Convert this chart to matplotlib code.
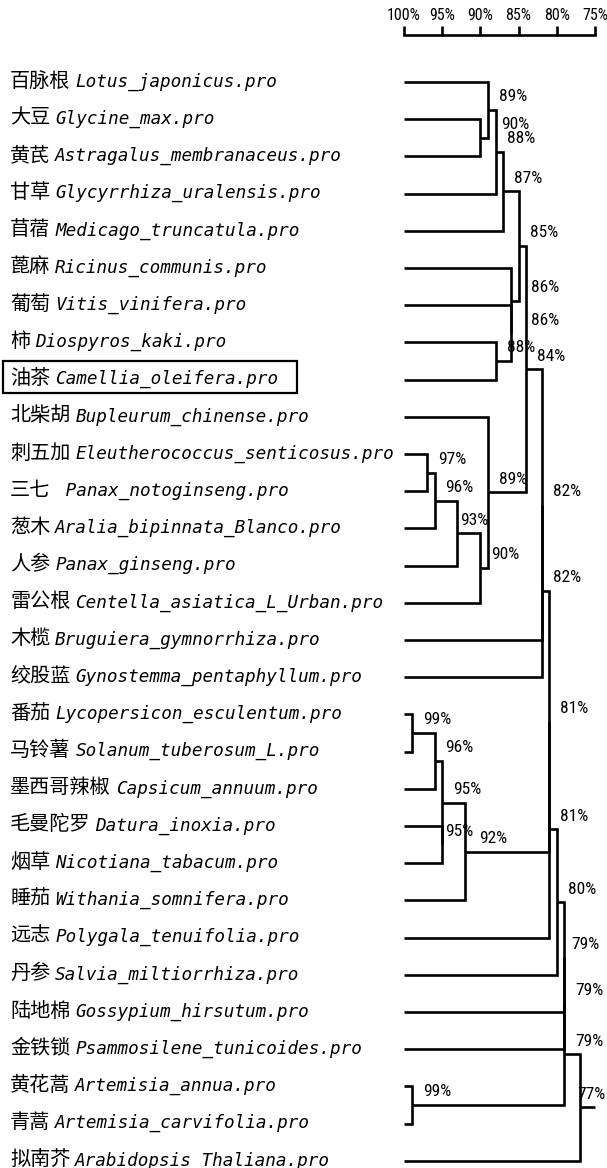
import matplotlib
matplotlib.use('Agg')
import matplotlib.pyplot as plt
import matplotlib.transforms as mtransforms
from matplotlib import font_manager
from matplotlib.patches import Rectangle

# leaf names, top to bottom
cn_names = ['百脉根', '大豆', '黄芪', '甘草', '苜蓿', '蓖麻', '葡萄', '柿', '油茶',
            '北柴胡', '刺五加', '三七', '葱木', '人参', '雷公根', '木榄', '绞股蓝',
            '番茄', '马铃薯', '墨西哥辣椒', '毛曼陀罗', '烟草', '睡茄', '远志', '丹参',
            '陆地棉', '金铁锁', '黄花蒿', '青蒿', '拟南芥']
latin_names = ['Lotus_japonicus.pro', 'Glycine_max.pro', 'Astragalus_membranaceus.pro',
               'Glycyrrhiza_uralensis.pro', 'Medicago_truncatula.pro', 'Ricinus_communis.pro',
               'Vitis_vinifera.pro', 'Diospyros_kaki.pro', 'Camellia_oleifera.pro',
               'Bupleurum_chinense.pro', 'Eleutherococcus_senticosus.pro',
               ' Panax_notoginseng.pro', 'Aralia_bipinnata_Blanco.pro', 'Panax_ginseng.pro',
               'Centella_asiatica_L_Urban.pro', 'Bruguiera_gymnorrhiza.pro',
               'Gynostemma_pentaphyllum.pro', 'Lycopersicon_esculentum.pro',
               'Solanum_tuberosum_L.pro', 'Capsicum_annuum.pro', 'Datura_inoxia.pro',
               'Nicotiana_tabacum.pro', 'Withania_somnifera.pro', 'Polygala_tenuifolia.pro',
               'Salvia_miltiorrhiza.pro', 'Gossypium_hirsutum.pro',
               'Psammosilene_tunicoides.pro', 'Artemisia_annua.pro',
               'Artemisia_carvifolia.pro', 'Arabidopsis_Thaliana.pro']
highlight = 8  # 油茶

# merges: (child a, child b, similarity %), new nodes numbered from 30
merges = [(1, 2, 90), (0, 30, 89), (31, 3, 88), (32, 4, 87),
          (7, 8, 88), (6, 34, 86), (5, 35, 86), (33, 36, 85),
          (10, 11, 97), (38, 12, 96), (39, 13, 93), (40, 14, 90), (9, 41, 89),
          (37, 42, 84), (43, 15, 82), (44, 16, 82),
          (17, 18, 99), (46, 19, 96), (20, 21, 95), (47, 48, 95), (49, 22, 92),
          (45, 50, 81), (51, 23, 81), (52, 24, 80), (53, 25, 79), (54, 26, 79),
          (27, 28, 99), (55, 56, 79), (57, 29, 77)]

ruler_ticks = [100, 95, 90, 85, 80, 75]

# label nudges (pixels) where the default spot collides with a line or the edge
label_dx = {30: 10, 35: 9, 36: 9, 40: -8, 48: -8, 50: 3, 54: -4, 58: -13}

# narrow sans for the percentages
installed = {f.name for f in font_manager.fontManager.ttflist}
pct_font = next(f for f in ['Roboto Condensed', 'Liberation Sans Narrow', 'Roboto', 'DejaVu Sans']
                if f in installed)
narrow = pct_font not in ('Roboto', 'DejaVu Sans')
pct_size = 12.5 if narrow else 10.5
ruler_size = 11.5 if narrow else 10

W, H = 607, 1168
X0_PX, PX_PER_PCT = 404, 7.64
ROW0_PX, ROW_PX = 82, 37.2

fig = plt.figure(figsize=(W / 100, H / 100), dpi=100)
ax = fig.add_axes([0, 0, 1, 1])
ax.set_xlim(100 + X0_PX / PX_PER_PCT, 100 - (W - X0_PX) / PX_PER_PCT)
ax.set_ylim((H - ROW0_PX) / ROW_PX, -ROW0_PX / ROW_PX)
ax.axis('off')

lw = 1.9
n = len(cn_names)
xs = {i: 100 for i in range(n)}
ys = {i: i for i in range(n)}

for k, (a, b, sim) in enumerate(merges):
    node = n + k
    xs[node] = sim
    ys[node] = (ys[a] + ys[b]) / 2
    ax.plot([xs[a], sim, sim, xs[b]], [ys[a], ys[a], ys[b], ys[b]],
            color='black', lw=lw, solid_joinstyle='miter', solid_capstyle='butt')
    ax.annotate(f'{sim}%', xy=(sim, ys[node]), xytext=(11 + label_dx.get(node, 0), 13),
                textcoords='offset pixels', ha='left', va='center', fontsize=pct_size,
                family=pct_font)

root = n + len(merges) - 1
ax.plot([xs[root], ruler_ticks[-1]], [ys[root]] * 2, color='black', lw=lw,
        solid_capstyle='butt')

# scale bar on top
ruler_y = (35 - ROW0_PX) / ROW_PX
tick_top = (26 - ROW0_PX) / ROW_PX
ax.plot([ruler_ticks[0], ruler_ticks[-1]], [ruler_y] * 2, color='black', lw=lw,
        solid_capstyle='projecting')
for t in ruler_ticks:
    ax.plot([t, t], [ruler_y, tick_top], color='black', lw=lw, solid_capstyle='butt')
    ax.text(t, (15 - ROW0_PX) / ROW_PX, f'{t}%', ha='center', va='center',
            fontsize=ruler_size, family=pct_font)

# leaf names: Chinese upright, Latin in oblique mono right after it
row_trans = mtransforms.blended_transform_factory(ax.transAxes, ax.transData)
base_trans = mtransforms.offset_copy(row_trans, fig=fig, x=0, y=-4.5, units='dots')
for i, (cn, la) in enumerate(zip(cn_names, latin_names)):
    t = ax.text(10 / W, i, cn, transform=base_trans, ha='left', va='baseline',
                fontsize=14.5, family=['Noto Sans CJK SC', 'DejaVu Sans'])
    ax.annotate(la, xy=(1, i), xycoords=(t, 'data'), xytext=(5, -4.5),
                textcoords='offset pixels', ha='left', va='baseline', fontsize=12.7,
                family='DejaVu Sans Mono', style='oblique')

box_top = (361 - ROW0_PX) / ROW_PX
box_bot = (393 - ROW0_PX) / ROW_PX
ax.add_patch(Rectangle((3 / W, box_top), 294 / W, box_bot - box_top, transform=row_trans,
                       fill=False, edgecolor='black', lw=1.6))

fig.savefig('out.png', dpi=100)
